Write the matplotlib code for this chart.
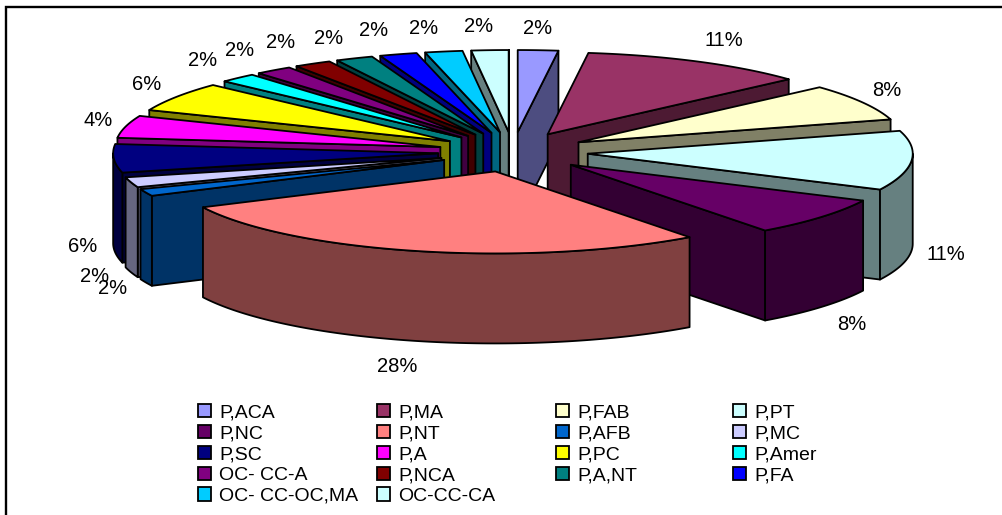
import matplotlib
matplotlib.use('Agg')

import numpy as np
import matplotlib.pyplot as plt
from matplotlib.patches import Patch, Polygon

plt.rcParams['font.family'] = ['Liberation Sans', 'DejaVu Sans']

names = ['P,ACA', 'P,MA', 'P,FAB', 'P,PT', 'P,NC', 'P,NT', 'P,AFB', 'P,MC', 'P,SC',
         'P,A', 'P,PC', 'P,Amer', 'OC- CC-A', 'P,NCA', 'P,A,NT', 'P,FA',
         'OC- CC-OC,MA', 'OC-CC-CA']
# slice shares (the printed labels are rounded)
shares = [2.0, 11.3, 7.2, 11.7, 7.6, 28.0, 1.4, 2.0, 5.6,
          4.4, 5.8, 1.86, 1.86, 1.86, 1.86, 1.86, 1.86, 1.84]
pct_labels = ['2%', '11%', '8%', '11%', '8%', '28%', '2%', '2%', '6%',
              '4%', '6%', '2%', '2%', '2%', '2%', '2%', '2%', '2%']
colors = ['#9999FF', '#993366', '#FFFFCC', '#CCFFFF', '#660066', '#FF8080',
          '#0066CC', '#CCCCFF', '#000080', '#FF00FF', '#FFFF00', '#00FFFF',
          '#800080', '#800000', '#008080', '#0000FF', '#00CCFF', '#CCFFFF']
label_x = [538, 724, 887, 946, 852, 397, 113, 95, 83, 98, 147, 203, 240, 281, 329, 374, 424, 479]
label_y = [27, 38, 89, 252, 322, 365, 287, 275, 244, 118, 83, 58, 48, 40, 36, 28, 27, 24]

# pie geometry, in pixels
CX, CY = 513, 152
RX, RY = 325, 82
EX, EY = 75, 20     # explosion
DEPTH = 90
LW = 1.3


def side_color(c):
    r, g, b = matplotlib.colors.to_rgb(c)
    return (r * 0.5, g * 0.5, b * 0.5)


def arc(ax_x, ax_y, t0, t1):
    t = np.radians(np.linspace(t0, t1, max(int(t1 - t0) * 2, 2)))
    return np.column_stack([ax_x + RX * np.sin(t), ax_y - RY * np.cos(t)])


def draw_wedge(ax, t0, t1, color):
    mid = np.radians((t0 + t1) / 2)
    ax_x = CX + EX * np.sin(mid)
    ax_y = CY - EY * np.cos(mid)
    apex = np.array([ax_x, ax_y])
    down = np.array([0, DEPTH])
    top = arc(ax_x, ax_y, t0, t1)
    dark = side_color(color)

    def face(pts, c):
        ax.add_patch(Polygon(pts, closed=True, facecolor=c, edgecolor='black',
                             linewidth=LW, joinstyle='round'))

    # flat cut faces, only the one turned to the viewer
    if np.sin(np.radians(t0)) < 0:
        face([apex, top[0], top[0] + down, apex + down], dark)
    if np.sin(np.radians(t1)) > 0:
        face([apex, top[-1], top[-1] + down, apex + down], dark)

    # outer curved face
    a0, a1 = max(t0, 90), min(t1, 270)
    if a1 > a0:
        rim = arc(ax_x, ax_y, a0, a1)
        face(np.vstack([rim, rim[::-1] + down]), dark)

    face(np.vstack([apex, top]), color)


fig = plt.figure(figsize=(10.03, 5.15), dpi=100, facecolor='white')
ax = fig.add_axes([0, 0, 1, 1])
ax.set_xlim(0, 1003)
ax.set_ylim(515, 0)
ax.axis('off')

# frame: only left and top show in the crop
ax.plot([6, 6, 1003], [515, 7, 7], color='black', linewidth=1.7, solid_joinstyle='miter')

edges = np.concatenate([[0], np.cumsum(shares)]) * 360 / sum(shares)
# back slices first, the front ones paint over them
order = sorted(range(len(shares)),
               key=lambda i: -np.cos(np.radians((edges[i] + edges[i + 1]) / 2)))
for i in order:
    draw_wedge(ax, edges[i], edges[i + 1], colors[i])

for x, y, s in zip(label_x, label_y, pct_labels):
    ax.text(x, y, s, ha='center', va='center_baseline', fontsize=14.5, color='black')

# legend, filled row by row with equal column widths
handles = [Patch(facecolor=c, edgecolor='black', linewidth=1.3, label=n)
           for c, n in zip(colors, names)]
col_x = [194, 373, 552, 729]
for k, x in enumerate(col_x):
    leg = ax.legend(handles=handles[k::4], loc='upper left', bbox_to_anchor=(x, 400),
                    bbox_transform=ax.transData, frameon=False, fontsize=14,
                    handlelength=0.68, handleheight=0.68, handletextpad=0.4,
                    labelspacing=0.175, borderpad=0.2, borderaxespad=0)
    if k < len(col_x) - 1:
        ax.add_artist(leg)

fig.savefig('out.png', dpi=100)
plt.close(fig)
